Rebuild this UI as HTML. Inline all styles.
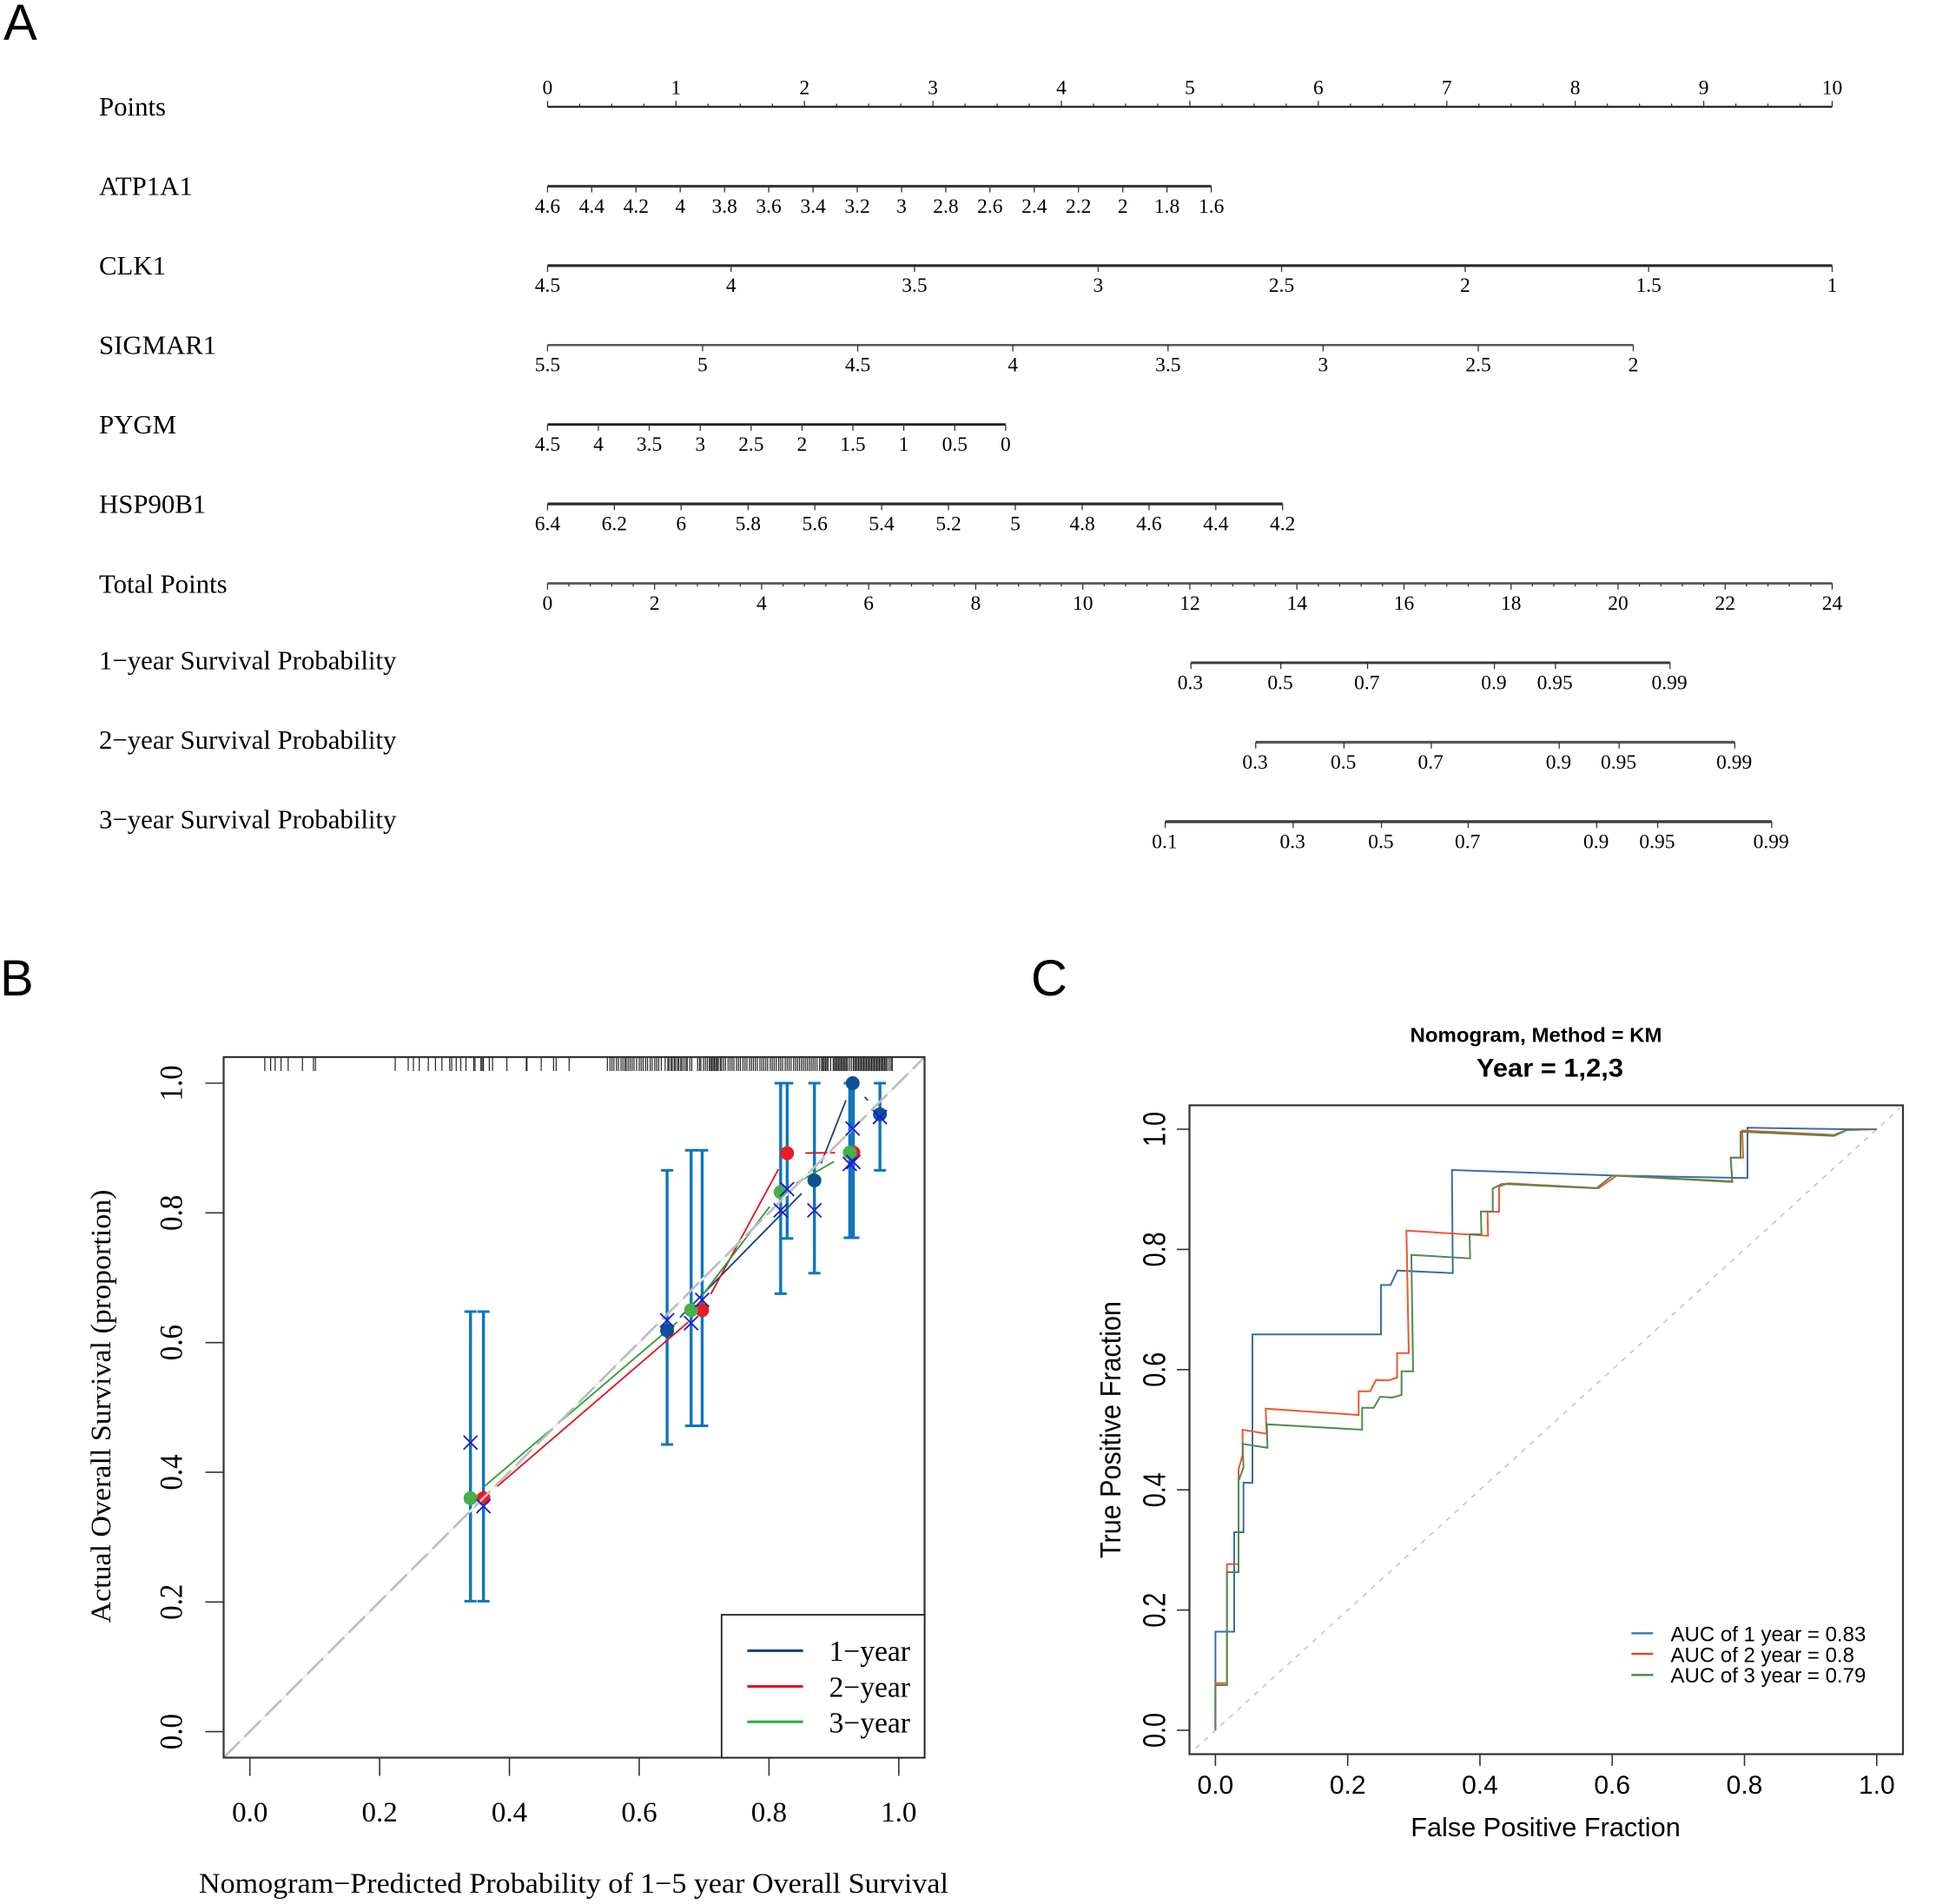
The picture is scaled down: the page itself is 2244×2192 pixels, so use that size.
<!DOCTYPE html>
<html lang="en">
<head>
<meta charset="utf-8">
<title>Nomogram, calibration and ROC figure</title>
<style>
  html, body { margin: 0; padding: 0; background: #fff; }
  svg { display: block; }
  .serif { font-family: "Liberation Serif", serif; fill: #000; }
  .sans { font-family: "Liberation Sans", sans-serif; fill: #000; }
</style>
</head>
<body>
<svg id="fig" xmlns="http://www.w3.org/2000/svg" width="2244" height="2192" viewBox="0 0 2244 2192">
  <rect x="0" y="0" width="2244" height="2192" fill="#fff"/>

  <text class="sans" x="4" y="46" font-size="58">A</text>
  <text class="sans" x="0" y="1146" font-size="58">B</text>
  <text class="sans" x="1187" y="1146" font-size="58">C</text>

  <g id="panelA"></g>

  <g id="panelB">
    <g id="bMarks"></g>
    <rect x="257.5" y="1217" width="807" height="806.5" fill="none" stroke="#333" stroke-width="2.2"/>
    <g id="bAxes"></g>
    <text class="serif" x="660.5" y="2179" font-size="33" text-anchor="middle" textLength="863" lengthAdjust="spacingAndGlyphs">Nomogram−Predicted Probability of 1−5 year Overall Survival</text>
    <text class="serif" transform="translate(127 1619) rotate(-90)" font-size="33" text-anchor="middle" textLength="499" lengthAdjust="spacingAndGlyphs">Actual Overall Survival (proportion)</text>
    <g>
      <rect x="830.8" y="1859" width="233.7" height="164.5" fill="#fff" stroke="#222" stroke-width="1.8"/>
      <line x1="860.4" y1="1900.4" x2="924.6" y2="1900.4" stroke="#14407a" stroke-width="3"/>
      <line x1="860.4" y1="1941.5" x2="924.6" y2="1941.5" stroke="#e0141c" stroke-width="3"/>
      <line x1="860.4" y1="1982.3" x2="924.6" y2="1982.3" stroke="#2eaa35" stroke-width="3"/>
      <text class="serif" x="1048" y="1912" font-size="33.6" text-anchor="end">1−year</text>
      <text class="serif" x="1048" y="1953.5" font-size="33.6" text-anchor="end">2−year</text>
      <text class="serif" x="1048" y="1994.5" font-size="33.6" text-anchor="end">3−year</text>
    </g>
  </g>

  <g id="panelC">
    <text class="sans" x="1768.5" y="1199.5" font-size="23" font-weight="bold" text-anchor="middle" textLength="290" lengthAdjust="spacingAndGlyphs">Nomogram, Method = KM</text>
    <text class="sans" x="1784.5" y="1239.5" font-size="30" font-weight="bold" text-anchor="middle" textLength="169" lengthAdjust="spacingAndGlyphs">Year = 1,2,3</text>
    <g id="cMarks"></g>
    <rect x="1369.5" y="1272.5" width="821.5" height="747" fill="none" stroke="#333" stroke-width="2.2"/>
    <g id="cAxes"></g>
    <text class="sans" x="1779.5" y="2114" font-size="30.7" text-anchor="middle" textLength="310.6" lengthAdjust="spacingAndGlyphs">False Positive Fraction</text>
    <text class="sans" transform="translate(1290 1646) rotate(-90) scale(1 1.1)" font-size="30.4" text-anchor="middle" textLength="296" lengthAdjust="spacingAndGlyphs">True Positive Fraction</text>
    <g>
      <line x1="1878.3" y1="1880.3" x2="1903.4" y2="1880.3" stroke="#2f79b5" stroke-width="2.4"/>
      <line x1="1878.3" y1="1904" x2="1903.4" y2="1904" stroke="#e64b20" stroke-width="2.4"/>
      <line x1="1878.3" y1="1928.3" x2="1903.4" y2="1928.3" stroke="#3f8a3f" stroke-width="2.4"/>
      <text class="sans" x="1923.5" y="1889.5" font-size="24">AUC of 1 year = 0.83</text>
      <text class="sans" x="1923.5" y="1913.5" font-size="24">AUC of 2 year = 0.8</text>
      <text class="sans" x="1923.5" y="1937.2" font-size="24">AUC of 3 year = 0.79</text>
    </g>
  </g>
</svg>

<script>
/* ---------- Panel A data: nomogram ---------- */
const pointsLabels = ["0","1","2","3","4","5","6","7","8","9","10"];
const pointsValues = [0,1,2,3,4,5,6,7,8,9,10];

const atp1a1Labels = ["4.6","4.4","4.2","4","3.8","3.6","3.4","3.2","3","2.8","2.6","2.4","2.2","2","1.8","1.6"];
const atp1a1Points = [0,0.344,0.689,1.033,1.378,1.722,2.067,2.411,2.756,3.1,3.444,3.789,4.133,4.478,4.822,5.167];

const clk1Labels = ["4.5","4","3.5","3","2.5","2","1.5","1"];
const clk1Points = [0,1.429,2.857,4.286,5.714,7.143,8.571,10];

const sigmar1Labels = ["5.5","5","4.5","4","3.5","3","2.5","2"];
const sigmar1Points = [0,1.207,2.415,3.622,4.83,6.037,7.245,8.452];

const pygmLabels = ["4.5","4","3.5","3","2.5","2","1.5","1","0.5","0"];
const pygmPoints = [0,0.396,0.792,1.189,1.585,1.981,2.377,2.773,3.17,3.566];

const hsp90b1Labels = ["6.4","6.2","6","5.8","5.6","5.4","5.2","5","4.8","4.6","4.4","4.2"];
const hsp90b1Points = [0,0.52,1.04,1.561,2.081,2.601,3.121,3.641,4.162,4.682,5.202,5.722];

const totalLabels = ["0","2","4","6","8","10","12","14","16","18","20","22","24"];
const totalValues = [0,2,4,6,8,10,12,14,16,18,20,22,24];

const year1Labels = ["0.3","0.5","0.7","0.9","0.95","0.99"];
const year1Total = [12.02,13.7,15.32,17.69,18.83,20.97];
const year2Labels = ["0.3","0.5","0.7","0.9","0.95","0.99"];
const year2Total = [13.23,14.88,16.51,18.9,20.02,22.18];
const year3Labels = ["0.1","0.3","0.5","0.7","0.9","0.95","0.99"];
const year3Total = [11.54,13.93,15.58,17.2,19.6,20.74,22.87];

/* ---------- Panel B data: calibration ---------- */
const calX1 = [0.643,0.87,0.929,0.971];
const calY1 = [0.6186,0.85,1.0,0.952];
const calLo1 = [0.4428,0.707,0.7616,0.8656];
const calHi1 = [0.8656,1.0,1.0,1.0];
const calCorrected1 = [0.6343,0.804,0.93,0.9477];

const calX2 = [0.36,0.697,0.828,0.93];
const calY2 = [0.36,0.65,0.892,0.893];
const calLo2 = [0.2012,0.4716,0.7606,0.7616];
const calHi2 = [0.6477,0.8965,1.0,1.0];
const calCorrected2 = [0.3477,0.6656,0.8366,0.8785];

const calX3 = [0.34,0.68,0.818,0.9245];
const calY3 = [0.36,0.65,0.832,0.893];
const calLo3 = [0.2012,0.4716,0.6754,0.7616];
const calHi3 = [0.6477,0.8965,1.0,1.0];
const calCorrected3 = [0.4458,0.63,0.804,0.8754];

const rugValues = [0.023,0.032,0.039,0.048,0.059,0.081,0.098,0.101,0.224,0.244,0.252,0.261,0.275,0.286,0.296,0.308,0.311,0.318,0.325,0.333,0.345,0.347,0.356,0.358,0.36,0.369,0.374,0.396,0.426,0.427,0.449,0.468,0.472,0.492,
0.551,0.555,0.558,0.561,0.565,0.568,0.572,0.575,0.578,0.58,0.583,0.586,0.589,0.592,0.596,0.6,0.603,0.606,0.61,0.613,0.617,0.62,0.624,0.627,0.63,0.634,0.64,0.644,0.646,0.649,0.651,0.654,0.656,0.659,0.661,0.664,0.666,0.669,0.672,0.674,0.678,0.681,0.69,0.693,0.695,0.699,0.702,0.705,0.708,0.71,0.712,0.714,0.716,0.718,0.72,0.722,0.725,0.727,0.73,0.733,0.737,0.74,0.743,0.746,0.75,0.753,0.756,0.76,0.763,0.766,0.77,0.773,0.776,0.779,0.782,0.786,0.789,0.792,0.795,0.798,0.802,0.805,0.808,0.811,0.815,0.818,0.821,0.825,0.828,0.831,0.834,0.838,0.841,0.844,0.847,0.85,0.853,0.856,0.859,0.862,0.865,0.868,0.871,0.874,0.878,0.881,0.883,0.885,0.887,0.889,0.891,0.895,0.899,0.901,0.903,0.905,0.907,0.909,0.911,0.913,0.915,0.917,0.919,0.921,0.924,0.927,0.93,0.932,0.934,0.936,0.938,0.94,0.942,0.944,0.946,0.948,0.95,0.952,0.954,0.956,0.958,0.96,0.962,0.964,0.966,0.968,0.97,0.972,0.974,0.976,0.978,0.98,0.982,0.985,0.988,0.99];

const calTickValues = [0,0.2,0.4,0.6,0.8,1];
const calTickLabels = ["0.0","0.2","0.4","0.6","0.8","1.0"];

/* ---------- Panel C data: ROC ---------- */
const rocFpr1 = [0,0,0.0284,0.0284,0.0424,0.0424,0.056,0.056,0.2503,0.2503,0.2648,0.2753,0.3589,0.3576,0.6043,0.8046,0.8046,0.95,1];
const rocTpr1 = [0,0.164,0.164,0.3295,0.3295,0.4118,0.4118,0.6585,0.6585,0.7408,0.7408,0.7649,0.7606,0.9321,0.9228,0.9188,1.0024,1.0,1];

const rocFpr2 = [0,0,0.0175,0.0175,0.035,0.035,0.0411,0.0411,0.0774,0.076,0.2166,0.2166,0.2341,0.2429,0.2612,0.2748,0.2748,0.2923,0.2888,0.4123,0.4115,0.429,0.429,0.4421,0.5796,0.6068,0.7816,0.7791,0.798,0.7966,0.9357,0.9547,1];
const rocTpr2 = [0,0.0785,0.0785,0.2765,0.2765,0.434,0.458,0.5,0.4933,0.5351,0.5246,0.564,0.564,0.5828,0.582,0.5867,0.6276,0.6276,0.8314,0.8227,0.8627,0.8627,0.9046,0.91,0.9019,0.9228,0.9122,0.9526,0.9526,0.998,0.9905,0.9985,1];

const rocFpr3 = [0,0,0.0175,0.0175,0.035,0.035,0.0424,0.0411,0.0787,0.0778,0.2218,0.2218,0.2394,0.249,0.267,0.2814,0.2814,0.2989,0.2963,0.3852,0.3843,0.4023,0.4014,0.4194,0.4194,0.4333,0.4434,0.576,0.6002,0.7816,0.7791,0.794,0.794,0.9357,0.9547,1];
const rocTpr3 = [0,0.0751,0.0751,0.263,0.263,0.4147,0.4374,0.4764,0.47,0.5091,0.5,0.5366,0.5366,0.5549,0.5535,0.5578,0.5973,0.5973,0.7909,0.7851,0.8251,0.8251,0.8632,0.8632,0.9012,0.909,0.9085,0.9017,0.9228,0.9133,0.9526,0.9526,0.9958,0.9889,0.9985,1];

const rocTickValues = [0,0.2,0.4,0.6,0.8,1];
const rocTickLabels = ["0.0","0.2","0.4","0.6","0.8","1.0"];

/* ---------- helpers ---------- */
const NS = 'http://www.w3.org/2000/svg';
function add(parent, tag, attrs, text) {
  const el = document.createElementNS(NS, tag);
  for (const k in attrs) el.setAttribute(k, attrs[k]);
  if (text !== undefined) el.textContent = text;
  parent.appendChild(el);
  return el;
}

/* ---------- Panel A ---------- */
const panelA = document.getElementById('panelA');
const pointsScale = p => 630.4 + p * 147.91;
const totalScale = t => 630.4 + t * (1479.1 / 24);
const ROW_LINE = 122.9, ROW_STEP = 91.45;
const rowY = i => ROW_LINE + i * ROW_STEP;

function rowLabel(text, i) {
  const el = add(panelA, 'text', { class: 'serif', x: 114, y: rowY(i) + (i < 6 ? 10.3 : i === 6 ? 10.8 : 7.6), 'font-size': 30.8 }, text);
  
  
}
function axisLine(x1, x2, i, weight, color) {
  const el = add(panelA, 'line', { x1: x1, x2: x2, y1: rowY(i), y2: rowY(i), stroke: color, 'stroke-width': weight });
  
  
}
function tickMark(x, y1, y2) {
  const el = add(panelA, 'line', { x1: x, x2: x, y1: y1, y2: y2, stroke: '#333', 'stroke-width': 1.3 });
  
  
}
function tickText(x, y, text) {
  const el = add(panelA, 'text', { class: 'serif', x: x, y: y, 'font-size': 23.5, 'text-anchor': 'middle' }, text);
  
  
}
function bottomAxis(name, labels, values, scale, i, weight, color) {
  rowLabel(name, i);
  const y = rowY(i);
  axisLine(scale(values[0]), scale(values[values.length - 1]), i, weight, color);
  labels.forEach((lab, k) => {
    const x = scale(values[k]) - (i >= 7 ? 0.7 : 0);
    tickMark(scale(values[k]), y, y + 7.2);
    tickText(x, y + 30.4, lab);
  });
}

/* Points row: labels above the line */
rowLabel('Points', 0);
axisLine(pointsScale(0), pointsScale(10), 0, 2.4, '#2a2a2a');
pointsValues.forEach((v, k) => {
  const x = pointsScale(v);
  tickMark(x, ROW_LINE - 6.8, ROW_LINE);
  tickText(x, ROW_LINE - 14.6, pointsLabels[k]);
  if (k < pointsValues.length - 1) {
    for (let m = 1; m < 4; m++) tickMark(pointsScale(v + m * 0.25), ROW_LINE - 3.6, ROW_LINE);
  }
});

bottomAxis('ATP1A1', atp1a1Labels, atp1a1Points, pointsScale, 1, 3, '#333');
bottomAxis('CLK1', clk1Labels, clk1Points, pointsScale, 2, 3.2, '#2a2a2a');
bottomAxis('SIGMAR1', sigmar1Labels, sigmar1Points, pointsScale, 3, 2.6, '#555');
bottomAxis('PYGM', pygmLabels, pygmPoints, pointsScale, 4, 2.8, '#222');
bottomAxis('HSP90B1', hsp90b1Labels, hsp90b1Points, pointsScale, 5, 3.2, '#2a2a2a');
bottomAxis('Total Points', totalLabels, totalValues, totalScale, 6, 2.8, '#555');
totalValues.forEach((v, k) => {
  if (k < totalValues.length - 1) {
    for (let m = 1; m < 5; m++) tickMark(totalScale(v + m * 0.4), rowY(6), rowY(6) + 3.6);
  }
});
bottomAxis('1−year Survival Probability', year1Labels, year1Total, totalScale, 7, 3, '#3a3a3a');
bottomAxis('2−year Survival Probability', year2Labels, year2Total, totalScale, 8, 3.2, '#555');
bottomAxis('3−year Survival Probability', year3Labels, year3Total, totalScale, 9, 3.4, '#3a3a3a');

/* ---------- Panel B ---------- */
const bMarks = document.getElementById('bMarks');
const bAxes = document.getElementById('bAxes');
const calXScale = v => 287.7 + 747.1 * v;
const calYScale = v => 1993.6 - 746.6 * v;

calTickValues.forEach((v, k) => {
  const x = calXScale(v);
  const xt = add(bAxes, 'line', { x1: x, x2: x, y1: 2023.5, y2: 2044.5, stroke: '#333', 'stroke-width': 1.6 });
  
  
  const xl = add(bAxes, 'text', { class: 'serif', x: x, y: 2097, 'font-size': 33, 'text-anchor': 'middle' }, calTickLabels[k]);
  
  
  const y = calYScale(v);
  const yt = add(bAxes, 'line', { x1: 236.5, x2: 257.5, y1: y, y2: y, stroke: '#333', 'stroke-width': 1.6 });
  
  
  const yl = add(bAxes, 'text', { class: 'serif', transform: 'translate(209.5 ' + y + ') rotate(-90) scale(1 1.12)', 'font-size': 33, 'text-anchor': 'middle' }, calTickLabels[k]);
  
  
});

rugValues.forEach(v => {
  const x = calXScale(v);
  const r = add(bMarks, 'line', { x1: x, x2: x, y1: 1217, y2: 1233, stroke: '#222', 'stroke-width': 1.2 });
  
  
});

function errorBars(xs, lo, hi) {
  xs.forEach((v, k) => {
    const x = calXScale(v), y1 = calYScale(lo[k]), y2 = calYScale(hi[k]);
    const s = add(bMarks, 'line', { x1: x, x2: x, y1: y1, y2: y2, stroke: '#0f75bd', 'stroke-width': 3.4 });
    
    
    const c1 = add(bMarks, 'line', { x1: x - 7, x2: x + 7, y1: y1, y2: y1, stroke: '#0f75bd', 'stroke-width': 3 });
    
    
    const c2 = add(bMarks, 'line', { x1: x - 7, x2: x + 7, y1: y2, y2: y2, stroke: '#0f75bd', 'stroke-width': 3 });
    
    
  });
}
function gappedLine(xs, ys, color) {
  const GAP = 21;
  for (let k = 0; k < xs.length - 1; k++) {
    const ax = calXScale(xs[k]), ay = calYScale(ys[k]);
    const bx = calXScale(xs[k + 1]), by = calYScale(ys[k + 1]);
    const len = Math.hypot(bx - ax, by - ay);
    if (len <= 2 * GAP) continue;
    const ux = (bx - ax) / len, uy = (by - ay) / len;
    const seg = add(bMarks, 'line', { x1: ax + ux * GAP, y1: ay + uy * GAP, x2: bx - ux * GAP, y2: by - uy * GAP, stroke: color, 'stroke-width': 1.8 });
    
    
  }
}
function dots(xs, ys, color) {
  xs.forEach((v, k) => {
    const c = add(bMarks, 'circle', { cx: calXScale(v), cy: calYScale(ys[k]), r: 8, fill: color });
    
    
  });
}
function crosses(xs, ys) {
  xs.forEach((v, k) => {
    const x = calXScale(v), y = calYScale(ys[k]), h = 8;
    const a = add(bMarks, 'path', { d: 'M' + (x - h) + ' ' + (y - h) + 'L' + (x + h) + ' ' + (y + h) + 'M' + (x - h) + ' ' + (y + h) + 'L' + (x + h) + ' ' + (y - h), stroke: '#1717e0', 'stroke-width': 1.8, fill: 'none' });
    
    
  });
}

errorBars(calX1, calLo1, calHi1);
errorBars(calX2, calLo2, calHi2);
errorBars(calX3, calLo3, calHi3);
gappedLine(calX1, calY1, '#14407a');
gappedLine(calX2, calY2, '#e0141c');
gappedLine(calX3, calY3, '#2a9e32');
dots(calX1, calY1, '#0b5294');
dots(calX2, calY2, '#ec1c24');
dots(calX3, calY3, '#46b04a');

const diagLow = add(bMarks, 'line', { x1: 257.5, y1: 2023.5, x2: 1064.5, y2: 1217, stroke: '#f0f0f0', 'stroke-width': 2.6 });


const diagDash = add(bMarks, 'line', { x1: 257.5, y1: 2023.5, x2: 1064.5, y2: 1217, stroke: '#bcbcbc', 'stroke-width': 2.6, 'stroke-dasharray': '26 8' });



crosses(calX1, calCorrected1);
crosses(calX2, calCorrected2);
crosses(calX3, calCorrected3);

/* ---------- Panel C ---------- */
const cMarks = document.getElementById('cMarks');
const cAxes = document.getElementById('cAxes');
const rocX = v => 1399.4 + 761.4 * v;
const rocY = v => 1992 - 692 * v;

const rocDiag = add(cMarks, 'line', { x1: rocX(-0.03), y1: rocY(-0.03), x2: rocX(1.035), y2: rocY(1.035), stroke: '#c4c4c4', 'stroke-width': 1.6, 'stroke-dasharray': '6 7' });



function rocPath(fpr, tpr, color) {
  const d = fpr.map((v, k) => (k ? 'L' : 'M') + rocX(v).toFixed(1) + ' ' + rocY(tpr[k]).toFixed(1)).join('');
  return add(cMarks, 'path', { d: d, fill: 'none', stroke: color, 'stroke-width': 2, 'stroke-linejoin': 'miter' });
}
const curve1 = rocPath(rocFpr1, rocTpr1, '#3a6ea8');


const curve2 = rocPath(rocFpr2, rocTpr2, '#ea5a30');


const curve3 = rocPath(rocFpr3, rocTpr3, '#4f8a50');



rocTickValues.forEach((v, k) => {
  const x = rocX(v);
  const xt = add(cAxes, 'line', { x1: x, x2: x, y1: 2019.5, y2: 2033, stroke: '#333', 'stroke-width': 1.6 });
  
  
  const xl = add(cAxes, 'text', { class: 'sans', x: x, y: 2065, 'font-size': 30, 'text-anchor': 'middle' }, rocTickLabels[k]);
  
  
  const y = rocY(v);
  const yt = add(cAxes, 'line', { x1: 1355, x2: 1370, y1: y, y2: y, stroke: '#333', 'stroke-width': 1.6 });
  
  
  const yl = add(cAxes, 'text', { class: 'sans', transform: 'translate(1341.5 ' + y + ') rotate(-90) scale(0.96 1.2)', 'font-size': 30, 'text-anchor': 'middle' }, rocTickLabels[k]);
  
  
});
</script>
</body>
</html>
